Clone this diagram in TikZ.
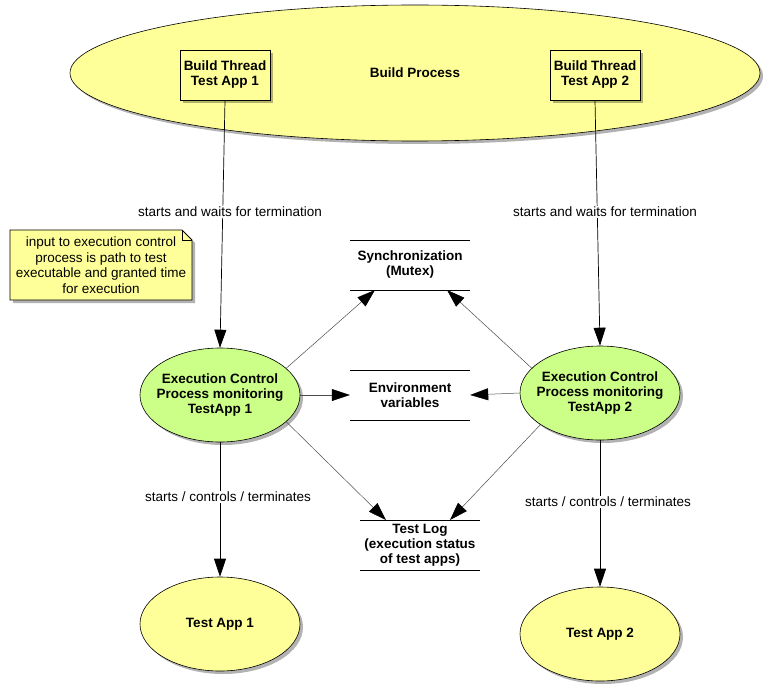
\documentclass[tikz,border=0pt]{standalone}
\usepackage{fontspec}
\setmainfont{Liberation Sans}
\usetikzlibrary{shapes.geometric,arrows.meta,shadows}
\definecolor{lyellow}{HTML}{FFFF99}
\definecolor{lgreen}{HTML}{CCFF88}
\begin{document}
\begin{tikzpicture}[x=1pt,y=-1pt,
  shd/.style={drop shadow={shadow xshift=3pt,shadow yshift=-3pt,fill=black,opacity=0.3}},
  proc/.style={ellipse,draw=black,line width=0.6pt,minimum width=160pt,minimum height=94pt,inner xsep=-30pt,inner ysep=-12pt,align=center,font=\fontsize{13.5}{15}\selectfont\bfseries,shd},
  thread/.style={rectangle,draw=black,line width=0.8pt,fill=lyellow,minimum width=90pt,minimum height=50pt,inner sep=1pt,align=center,font=\fontsize{13.5}{15}\selectfont\bfseries,shd},
  store/.style={minimum width=120pt,minimum height=50pt,align=center,font=\fontsize{13.5}{15}\selectfont\bfseries,inner sep=0pt},
  storeline/.style={line width=0.6pt,black},
  conn/.style={draw=black!70,line width=0.5pt,-{Triangle[length=18pt,width=12pt,color=black]}},
  vconn/.style={draw=black,line width=0.7pt,-{Triangle[length=18pt,width=12pt,color=black]}},
  lbl/.style={font=\fontsize{13.5}{15}\selectfont,fill=white,inner sep=1pt}
]
\useasboundingbox (0,0) rectangle (770,690);
% Build process
\node[proc,fill=lyellow,minimum width=690pt,minimum height=136pt] (bp) at (415,73) {};
\node[font=\fontsize{13.5}{15}\selectfont\bfseries] (bpl) at (415,73) {Build Process};
\node[thread] (bt1) at (225,75) {Build Thread\\Test App 1};
\node[thread] (bt2) at (595,75) {Build Thread\\Test App 2};
% note
\fill[black,opacity=0.3] (13,233) -- (185,233) -- (195,243) -- (195,303) -- (13,303) -- cycle;
\draw[fill=lyellow,line width=0.8pt] (10,230) -- (182,230) -- (192,240) -- (192,300) -- (10,300) -- cycle;
\draw[line width=0.5pt] (182,230) -- (182,240) -- (192,240);
\node[align=center,font=\fontsize{13.5}{15.5}\selectfont] (note) at (101,265) {input to execution control\\process is path to test\\executable and granted time\\for execution};
% control processes
\node[proc,fill=lgreen] (ec1) at (220,395) {Execution Control\\Process monitoring\\TestApp 1};
\node[proc,fill=lgreen] (ec2) at (600,393) {Execution Control\\Process monitoring\\TestApp 2};
% test apps
\node[proc,fill=lyellow] (ta1) at (220,624) {Test App 1};
\node[proc,fill=lyellow] (ta2) at (600,634) {Test App 2};
% stores
\node[store] (sync) at (410,265) {Synchronization\\(Mutex)};
\draw[storeline] (sync.north west) -- (sync.north east);
\draw[storeline] (sync.south west) -- (sync.south east);
\node[store] (env) at (410,395) {Environment\\variables};
\draw[storeline] (env.north west) -- (env.north east);
\draw[storeline] (env.south west) -- (env.south east);
\node[store] (log) at (420,545) {Test Log\\(execution status\\of test apps)};
\draw[storeline] (log.north west) -- (log.north east);
\draw[storeline] (log.south west) -- (log.south east);
% connectors
\draw[vconn] (bt1.south) -- (ec1.north);
\draw[vconn] (bt2.south) -- (ec2.north);
\node[lbl] (l1) at (230,212) {starts and waits for termination};
\node[lbl] (l2) at (605,212) {starts and waits for termination};
\draw[vconn] (ec1.south) -- (ta1.north);
\draw[vconn] (ec2.south) -- (ta2.north);
\node[lbl] (l3) at (228,497) {starts / controls / terminates};
\node[lbl] (l4) at (608,502) {starts / controls / terminates};
\coordinate (s1) at (375,290);
\coordinate (s2) at (447,290);
\draw[conn] (ec1.22) -- (s1);
\draw[conn] (ec2.160) -- (s2);
\draw[conn] (ec1.east) -- (env.west);
\draw[conn] (ec2.west) -- (env.east);
\coordinate (t1) at (386,520);
\coordinate (t2) at (450,520);
\draw[conn] (ec1.-22) -- (t1);
\draw[conn] (ec2.208) -- (t2);
\end{tikzpicture}
\end{document}
